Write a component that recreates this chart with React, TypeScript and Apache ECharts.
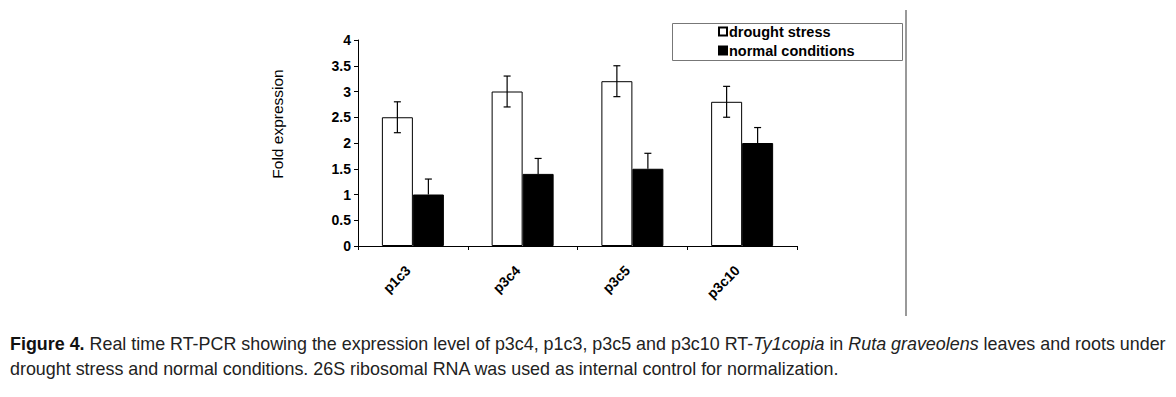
import React, { useEffect, useRef } from "react";
import * as echarts from "echarts";

const categories = ["p1c3", "p3c4", "p3c5", "p3c10"];
const droughtValues = [2.5, 3.0, 3.2, 2.8];
const normalValues = [1.0, 1.4, 1.5, 2.0];
const droughtErrors = [0.3, 0.3, 0.3, 0.3];
const normalErrors = [0.3, 0.3, 0.3, 0.3];
const yTicks = { min: 0, max: 4, interval: 0.5 };

const BAR_W = 31;
const FONT = "Liberation Sans, Arial, sans-serif";

export default function App() {
  const ref = useRef<HTMLDivElement>(null);
  useEffect(() => {
    document.body.style.margin = "0";
    const chart = echarts.init(ref.current!, null, { renderer: "svg" });
    const errData = (vals: number[], errs: number[], both: boolean) =>
      vals.map((v, i) => [i, v, errs[i], both ? 1 : 0]);
    const makeErr = (offset: number) => (params: any, api: any) => {
      const i = api.value(0);
      const v = api.value(1);
      const e = api.value(2);
      const both = api.value(3);
      const top = api.coord([i, v + e]);
      const bot = api.coord([i, both ? v - e : v]);
      const x = top[0] + offset;
      const cap = 3.5;
      const style = { stroke: "#000", lineWidth: 1.2 };
      const children: any[] = [
        { type: "line", shape: { x1: x, y1: top[1], x2: x, y2: bot[1] }, style },
        { type: "line", shape: { x1: x - cap, y1: top[1], x2: x + cap, y2: top[1] }, style },
      ];
      if (both) children.push({ type: "line", shape: { x1: x - cap, y1: bot[1], x2: x + cap, y2: bot[1] }, style });
      return { type: "group", children };
    };
    chart.setOption({
      animation: false,
      grid: { left: 358, right: 379, top: 40, bottom: 151, containLabel: false },
      legend: {
        orient: "vertical",
        left: 718,
        top: 24,
        padding: 0,
        itemGap: 4,
        itemWidth: 8,
        itemHeight: 8,
        icon: "rect",
        textStyle: { fontFamily: FONT, fontWeight: "bold", fontSize: 14.5, color: "#000", padding: [0, 0, 0, -3] },
        data: ["drought stress", "normal conditions"],
      },
      xAxis: {
        type: "category",
        data: categories,
        axisLine: { lineStyle: { color: "#000", width: 1 } },
        axisTick: { show: true, length: 4, lineStyle: { color: "#000" } },
        axisLabel: {
          rotate: 45,
          fontFamily: FONT,
          fontWeight: "bold",
          fontSize: 14,
          color: "#000",
          margin: 17,
          padding: [0, 7, 0, 0],
        },
      },
      yAxis: {
        type: "value",
        min: yTicks.min,
        max: yTicks.max,
        interval: yTicks.interval,
        splitLine: { show: false },
        axisLine: { show: true, lineStyle: { color: "#000", width: 1 } },
        axisTick: { show: true, length: 4, lineStyle: { color: "#000" } },
        axisLabel: {
          fontFamily: FONT,
          fontWeight: "bold",
          fontSize: 14,
          color: "#000",
          margin: 7,
        },
      },
      series: [
        {
          name: "drought stress",
          type: "bar",
          data: droughtValues,
          barWidth: BAR_W,
          barGap: "0%",
          itemStyle: { color: "#fff", borderColor: "#000", borderWidth: 1 },
        },
        {
          name: "normal conditions",
          type: "bar",
          data: normalValues,
          barWidth: BAR_W,
          barGap: "0%",
          itemStyle: { color: "#000", borderColor: "#000", borderWidth: 1 },
        },
        {
          type: "custom",
          renderItem: makeErr(-BAR_W / 2),
          data: errData(droughtValues, droughtErrors, true),
          encode: { x: 0, y: 1 },
          z: 10,
        },
        {
          type: "custom",
          renderItem: makeErr(BAR_W / 2),
          data: errData(normalValues, normalErrors, false),
          encode: { x: 0, y: 1 },
          z: 10,
        },
      ],
      graphic: [
        {
          type: "rect",
          shape: { x: 672.5, y: 23.5, width: 230, height: 37 },
          style: { fill: "none", stroke: "#777", lineWidth: 1 },
          z: -1,
        },
        {
          type: "line",
          shape: { x1: 906, y1: 10, x2: 906, y2: 316 },
          style: { stroke: "#999", lineWidth: 2 },
        },
        {
          type: "text",
          x: 277,
          y: 124,
          rotation: Math.PI / 2,
          style: {
            text: "Fold expression",
            fontFamily: FONT,
            fontSize: 15.5,
            fill: "#000",
            align: "center",
            verticalAlign: "middle",
          },
        },
        {
          type: "text",
          left: 10,
          top: 331,
          style: {
            text:
              "{b|Figure 4.} Real time RT-PCR showing the expression level of p3c4, p1c3, p3c5 and p3c10 RT-{i|Ty1copia} in {i|Ruta graveolens} leaves and roots under\ndrought stress and normal conditions. 26S ribosomal RNA was used as internal control for normalization.",
            fontFamily: FONT,
            fontSize: 17.9,
            lineHeight: 25,
            fill: "#222",
            rich: {
              b: { fontWeight: "bold", fontFamily: FONT, fontSize: 17.9, fill: "#111", lineHeight: 25 },
              i: { fontStyle: "italic", fontFamily: FONT, fontSize: 17.9, fill: "#222", lineHeight: 25 },
            },
          },
        },
      ],
    });
    return () => chart.dispose();
  }, []);
  return <div ref={ref} style={{ position: "absolute", left: 0, top: 0, width: 1176, height: 397 }} />;
}
